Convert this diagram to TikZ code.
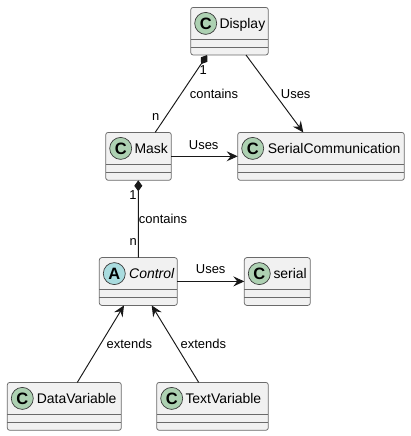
\documentclass[tikz,border=0pt]{standalone}
\usepackage{fontspec}
\setmainfont{Liberation Sans}
\usetikzlibrary{arrows.meta,shapes.geometric}
\definecolor{boxfill}{HTML}{F1F1F1}
\definecolor{ink}{HTML}{181818}
\definecolor{boxline}{HTML}{6A6A6A}
\definecolor{classc}{HTML}{ADD1B2}
\definecolor{abstractc}{HTML}{A9DCDF}
\tikzset{
  x=1bp,y=-1bp,
  umlbox/.style={draw=boxline,fill=boxfill,line width=0.75bp,rounded corners=2.5bp,inner sep=0,outer sep=0,anchor=north west},
  sepline/.style={draw=boxline,line width=0.75bp},
  spot/.style={circle,draw=ink!85,line width=0.7bp,minimum size=22bp,inner sep=0,text=black,font=\fontsize{16.5}{16.5}\selectfont\bfseries},
  title/.style={anchor=base west,inner sep=0,text=black,font=\fontsize{14}{14}\selectfont},
  lbl/.style={anchor=center,inner sep=0,text=black,font=\fontsize{13}{13}\selectfont},
  conn/.style={draw=ink,line width=0.95bp},
  uses/.style={conn,-{Stealth[length=11bp,width=10bp,inset=4bp,fill=ink]}},
  owns/.style={conn,{Diamond[length=11bp,width=8bp,fill=ink]}-},
}
\newcommand{\umlclass}[9]{%
  % name, x1, y1, w, h, spot colour, letter, title x, title
  \node[umlbox,minimum width=#4bp,minimum height=#5bp] (#1) at (#2,#3) {};
  \draw[sepline] ([yshift=15.8bp]#1.south west) -- ([yshift=15.8bp]#1.south east);
  \draw[sepline] ([yshift=7.8bp]#1.south west) -- ([yshift=7.8bp]#1.south east);
  \node[spot,fill=#6] (#1spot) at ([xshift=15bp,yshift=-16bp]#1.north west) {#7};
  \node[title] (#1title) at ([xshift=#8bp,yshift=-20.8bp]#1.north west) {#9};
}
\begin{document}
\begin{tikzpicture}
\useasboundingbox (0,0) rectangle (410,436);
\umlclass{display}{190.7}{7.4}{77.6}{47.6}{classc}{C}{28.6}{Display}
\umlclass{mask}{105.7}{132.4}{65.6}{47.9}{classc}{C}{28.6}{Mask}
\umlclass{sercomm}{237.7}{132.4}{166.6}{47.9}{classc}{C}{30}{SerialCommunication}
\umlclass{control}{99.3}{257.6}{78}{47.8}{abstractc}{A}{29.7}{\itshape Control}
\umlclass{serial}{244.3}{257.6}{66}{47.8}{classc}{C}{29}{serial}
\umlclass{datavar}{7.3}{382.4}{114}{47.9}{classc}{C}{29.4}{DataVariable}
\umlclass{textvar}{156.7}{382.4}{111.6}{47.9}{classc}{C}{28.6}{TextVariable}

\draw[owns] ([xshift=16.5bp]display.south west) -- ([xshift=49.5bp]mask.north west);
\draw[uses] ([xshift=55.3bp]display.south west) -- ([xshift=65.6bp]sercomm.north west);
\draw[uses] ([yshift=24bp]mask.south east) -- ([yshift=24bp]sercomm.south west);
\draw[owns] ([xshift=32.6bp]mask.south west) -- ([xshift=39bp]control.north west);
\draw[uses] ([yshift=24bp]control.south east) -- ([yshift=24bp]serial.south west);
\draw[uses] ([xshift=70bp]datavar.north west) -- ([xshift=24.7bp]control.south west);
\draw[uses] ([xshift=42bp]textvar.north west) -- ([xshift=52.4bp]control.south west);

\node[lbl] (l1) at (214,94) {contains};
\node[lbl] (l2) at (295.7,94) {Uses};
\node[lbl] (l3) at (203.7,145) {Uses};
\node[lbl] (l4) at (155.7,117) {n};
\node[lbl] (l5) at (203.3,70.5) {1};
\node[lbl] (l6) at (133,195.3) {1};
\node[lbl] (l7) at (163,218.7) {contains};
\node[lbl] (l8) at (133.3,241.7) {n};
\node[lbl] (l9) at (210.7,269.3) {Uses};
\node[lbl] (l10) at (129.3,343.7) {extends};
\node[lbl] (l11) at (203.3,343.7) {extends};
\end{tikzpicture}
\end{document}
